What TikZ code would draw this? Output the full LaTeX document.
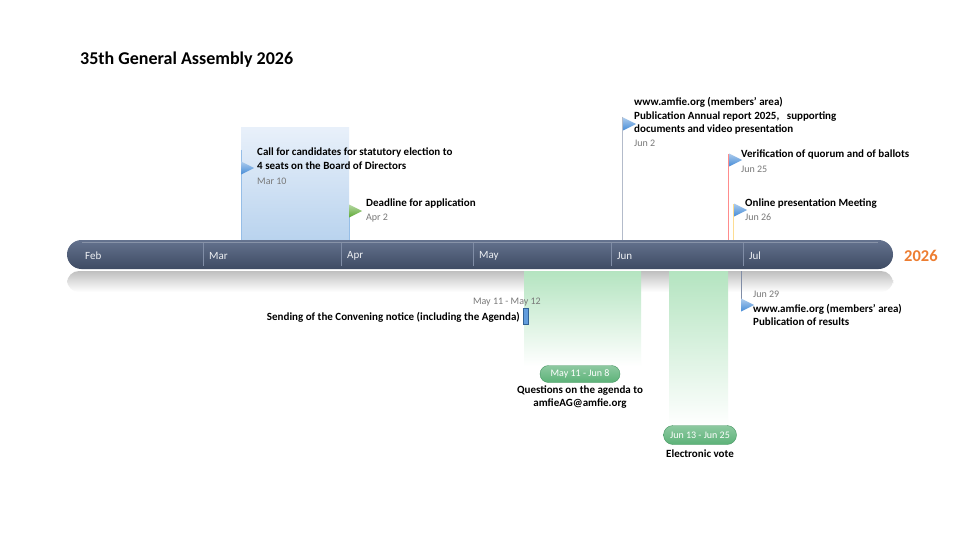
\documentclass[tikz,border=0pt]{standalone}
\usepackage{fontspec}
\setmainfont{Carlito}
\usetikzlibrary{positioning}
\definecolor{barTop}{RGB}{100,114,142}
\definecolor{barBot}{RGB}{62,75,99}
\definecolor{sepLine}{RGB}{128,141,166}
\definecolor{bandBlue}{RGB}{185,211,238}
\definecolor{bandBlueTop}{RGB}{232,240,250}
\definecolor{bandGreen}{RGB}{180,228,192}
\definecolor{pillGreen}{RGB}{92,178,120}
\definecolor{pillDark}{RGB}{70,150,98}
\definecolor{flagBlue}{RGB}{70,140,215}
\definecolor{flagGreen}{RGB}{92,168,50}
\definecolor{yearOrange}{RGB}{237,125,49}
\definecolor{dateGray}{RGB}{120,120,120}
\newcommand{\flagtip}[2]{\begin{scope}[shift={(#1)}]
  \shade[top color=#2!45!white,bottom color=#2] (0,-6.5) -- (13,0) -- (0,6.5) -- cycle;\end{scope}}

\begin{document}
\begin{tikzpicture}[x=1pt,y=-1pt,
  evt/.style={font=\bfseries\fontsize{11}{13.5}\selectfont,align=left,inner sep=0},
  when/.style={font=\fontsize{10}{12}\selectfont,text=dateGray,inner sep=0},
  month/.style={font=\fontsize{11}{13}\selectfont,text=white!90!barTop,anchor=west,inner sep=0},
  pill/.style={draw=pillDark,top color=pillGreen!70!white,bottom color=pillGreen,rounded corners=8.5,
    text=white,font=\fontsize{10}{12}\selectfont,minimum height=17,inner sep=0},
  stem/.style={line width=0.8pt}]
\useasboundingbox[fill=white] (0,0) rectangle (960,540);

% title
\node[font=\bfseries\fontsize{18}{21}\selectfont,anchor=west,inner sep=0] (title) at (80,60) {35th General Assembly 2026};

% shaded spans
\shade[top color=bandBlueTop,bottom color=bandBlue] (241,128) rectangle (349,240);
\shade[top color=gray!50,bottom color=white,rounded corners=12] (67,271) rectangle (893,292);
\shade[top color=bandGreen,bottom color=white] (524,271) rectangle (641,366);
\shade[top color=bandGreen,bottom color=white] (669,271) rectangle (728,426);

% the bar
\shade[top color=barTop,bottom color=barBot,rounded corners=14.5] (67,240) rectangle (893,269);
\draw[white,opacity=0.25,line width=0.6pt] (82,242.5) -- (878,242.5);
\node[month] (m-Feb) at (85,256) {Feb};
\foreach \x/\m in {203/Mar,341/Apr,473/May,611/Jun,743/Jul}{
  \draw[sepLine,line width=0.6pt] (\x,243) -- (\x,266);
  \node[month] (m-\m) at (\x+6,256) {\m};
}
\node[font=\bfseries\fontsize{16.5}{19}\selectfont,text=yearOrange,anchor=west,inner sep=0] (year) at (904,256) {2026};

% points on the bar
\coordinate (mar10) at (241,240);
\coordinate (apr2) at (349,240);
\coordinate (jun2) at (622,240);
\coordinate (jun25) at (728,240);
\coordinate (jun26) at (733,240);
\coordinate (jun29) at (741,271);

% above
\coordinate (mar10f) at (241,168);
\draw[stem,bandBlue!70!flagBlue] (241,150) -- (mar10);
\flagtip{mar10f}{flagBlue}
\node[evt,anchor=north west] (callTxt) at (257,148) {Call for candidates for statutory election to\\4 seats on the Board of Directors};
\node[when,below right=8.5pt and 0pt of callTxt.south west] (callDate) {Mar 10};

\coordinate (apr2f) at (349,211);
\draw[stem,bandBlue!70!flagBlue] (apr2f) -- (apr2);
\flagtip{apr2f}{flagGreen}
\node[evt,anchor=north west] (deadTxt) at (366,199) {Deadline for application};
\node[when,below right=5pt and 0pt of deadTxt.south west] (deadDate) {Apr 2};

\coordinate (jun2f) at (623,124);
\draw[stem,sepLine!60!white] (622,117) -- (jun2);
\flagtip{jun2f}{flagBlue}
\node[evt,anchor=north west] (reportTxt) at (634,97.5) {www.amfie.org (members' area)\\Publication Annual report 2025,\ \ \ supporting\\documents and video presentation};
\node[when,below right=5.5pt and 0pt of reportTxt.south west] (reportDate) {Jun 2};

\coordinate (jun25f) at (729,160);
\draw[stem,red!45!white] (728,154) -- (jun25);
\flagtip{jun25f}{flagBlue}
\node[evt,anchor=north west] (quorumTxt) at (741,150) {Verification of quorum and of ballots};
\node[when,below right=6pt and 0pt of quorumTxt.south west] (quorumDate) {Jun 25};

\coordinate (jun26f) at (734,210);
\draw[stem,yellow!40!orange!40!white] (733,204) -- (jun26);
\flagtip{jun26f}{flagBlue}
\node[evt,anchor=north west] (meetTxt) at (745,199) {Online presentation Meeting};
\node[when,below right=5pt and 0pt of meetTxt.south west] (meetDate) {Jun 26};

% below
\coordinate (jun29f) at (741,305);
\draw[stem,sepLine] (jun29) -- (741,311);
\flagtip{jun29f}{flagBlue}
\node[when,anchor=west] (resDate) at (753,294) {Jun 29};
\node[evt,anchor=north west] (resTxt) at (753,304) {www.amfie.org (members' area)\\Publication of results};

\fill[flagBlue!85!white,draw=flagBlue!70!black,line width=0.3pt] (523,308) rectangle (528,324);
\node[when,anchor=east] (noticeDate) at (541,302) {May 11 - May 12};
\node[evt,anchor=east] (noticeTxt) at (520,317) {Sending of the Convening notice (including the Agenda)};

\node[pill,minimum width=80] (qPill) at (580,374) {May 11 - Jun 8};
\node[evt,align=center,below=2.5pt of qPill] (qTxt) {Questions on the agenda to\\amfieAG@amfie.org};

\node[pill,minimum width=73,minimum height=19,rounded corners=9.5] (vPill) at (700,435) {Jun 13 - Jun 25};
\node[evt,below=5pt of vPill] (vTxt) {Electronic vote};
\end{tikzpicture}
\end{document}
